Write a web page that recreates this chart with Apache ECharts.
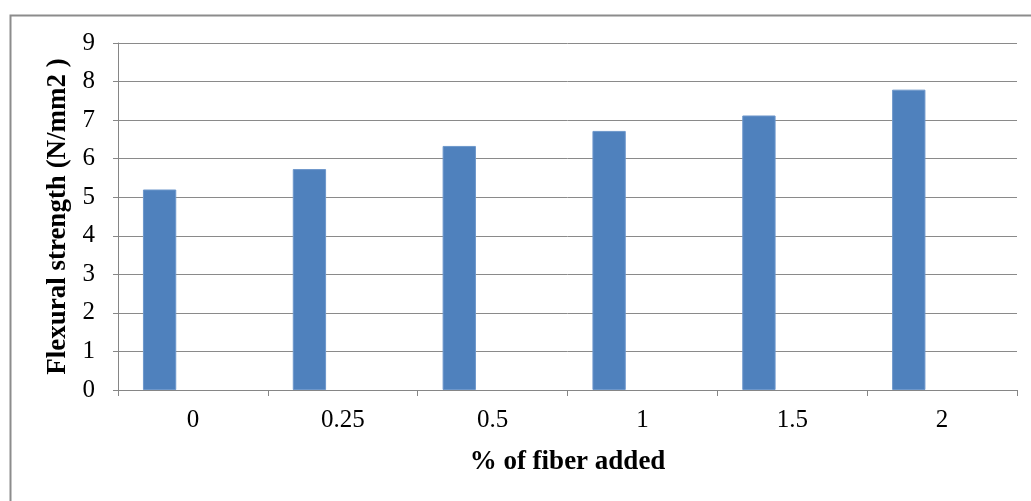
<!DOCTYPE html>
<html>
<head>
<meta charset="utf-8">
<script src="https://cdn.jsdelivr.net/npm/echarts@6/dist/echarts.min.js"></script>
<style>html,body{margin:0;padding:0;background:#fff;}#c{width:1031px;height:501px;}</style>
</head>
<body>
<div id="c"></div>
<script>
const categories = ['0', '0.25', '0.5', '1', '1.5', '2'];
const flexuralStrength = [5.2, 5.73, 6.33, 6.72, 7.12, 7.79];
const emptySeriesB = [];
const emptySeriesC = [];
const yAxisTitle = 'Flexural strength (N/mm2 )';
const xAxisTitle = '% of fiber added';

const chart = echarts.init(document.getElementById('c'), null, {renderer: 'canvas'});
const serif = 'Liberation Serif, Times New Roman, serif';
chart.setOption({
  animation: false,
  backgroundColor: '#ffffff',
  graphic: [{
    type: 'rect', left: 8, top: 13, shape: {width: 1040, height: 500},
    style: {fill: 'none', stroke: '#8c8c8c', lineWidth: 2}, silent: true
  }],
  grid: {left: 118, right: 14, top: 43, bottom: 111, containLabel: false},
  xAxis: {
    type: 'category',
    data: categories,
    boundaryGap: true,
    axisLine: {lineStyle: {color: '#868686', width: 1}},
    axisTick: {show: true, length: 6, alignWithLabel: false, lineStyle: {color: '#868686'}},
    axisLabel: {fontFamily: serif, fontSize: 25, color: '#000', margin: 18},
    name: xAxisTitle,
    nameLocation: 'middle',
    nameGap: 59,
    nameTextStyle: {fontFamily: serif, fontSize: 27, fontWeight: 'bold', color: '#000'}
  },
  yAxis: {
    type: 'value',
    min: 0, max: 9, interval: 1,
    axisLine: {show: true, lineStyle: {color: '#868686', width: 1}},
    axisTick: {show: true, length: 5, lineStyle: {color: '#868686'}},
    splitLine: {lineStyle: {color: '#8a8a8a', width: 1}},
    axisLabel: {fontFamily: serif, fontSize: 25, color: '#000', margin: 23},
    name: yAxisTitle,
    nameLocation: 'middle',
    nameGap: 46,
    nameTextStyle: {fontFamily: serif, fontSize: 27, fontWeight: 'bold', color: '#000'}
  },
  series: [
    {type: 'bar', data: flexuralStrength, barGap: '0%', barCategoryGap: '33.3%',
     itemStyle: {color: '#4F81BD', borderColor: '#6d97cb', borderWidth: 1}},
    {type: 'bar', data: emptySeriesB, barGap: '0%', barCategoryGap: '33.3%', itemStyle: {color: '#C0504D'}},
    {type: 'bar', data: emptySeriesC, barGap: '0%', barCategoryGap: '33.3%', itemStyle: {color: '#9BBB59'}}
  ]
});
</script>
</body>
</html>
